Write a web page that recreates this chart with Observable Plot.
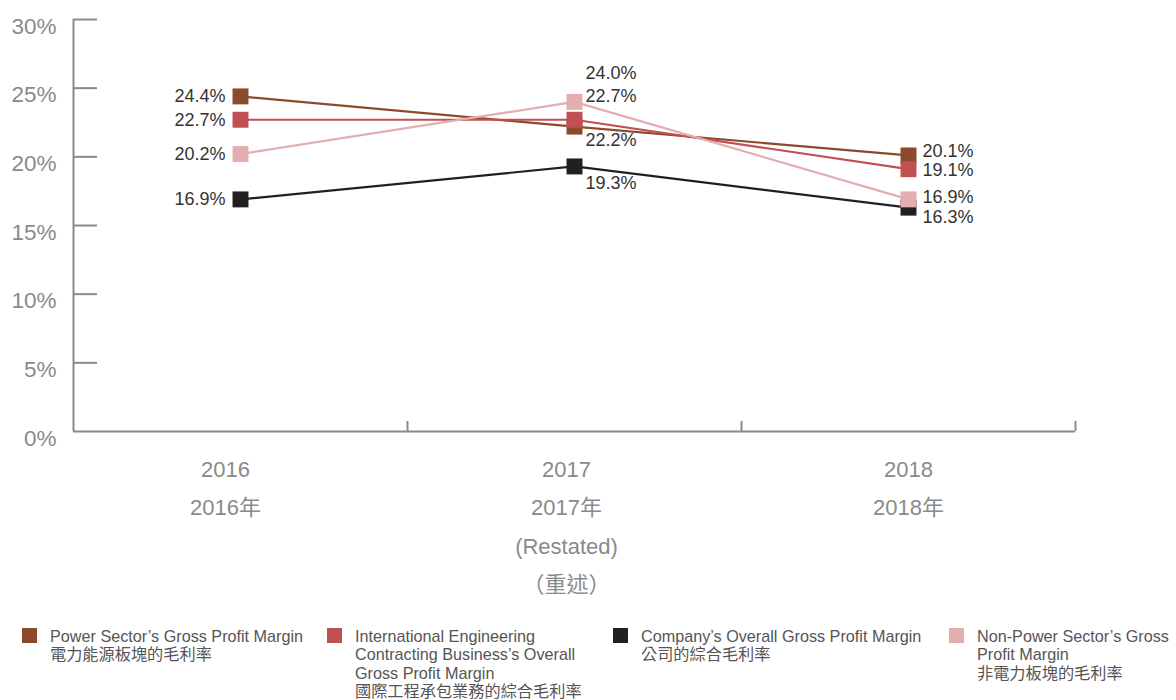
<!DOCTYPE html>
<html>
<head>
<meta charset="utf-8">
<script src="https://cdn.jsdelivr.net/npm/d3@7"></script>
<script src="https://cdn.jsdelivr.net/npm/@observablehq/plot@0.6"></script>
<style>
  html, body { margin: 0; padding: 0; background: #fff; }
  body { width: 1176px; height: 700px; overflow: hidden; font-family: "Liberation Sans", Arial, "Noto Sans CJK TC", sans-serif; }
  #chart svg { display: block; }
  #legend { position: relative; height: 88px; }
  .item { position: absolute; top: 15px; display: flex; align-items: flex-start; }
  .sw { width: 15px; height: 15px; margin-top: 1px; flex: none; }
  .lab { margin-left: 13px; font-size: 16.2px; line-height: 18.3px; color: #555; white-space: pre-line; font-family: "Liberation Sans", Arial, "Noto Sans CJK TC", sans-serif; }
</style>
</head>
<body>
<div id="chart"></div>
<div id="legend"></div>
<script>
// ---- data ----
const years = [2016, 2017, 2018];
const yearLabels = ["2016\n2016年", "2017\n2017年\n(Restated)\n（重述）", "2018\n2018年"];
const seriesKeys = ["power", "intl", "company", "nonpower"];
const seriesLegend = [
  "Power Sector’s Gross Profit Margin\n電力能源板塊的毛利率",
  "International Engineering\nContracting Business’s Overall\nGross Profit Margin\n國際工程承包業務的綜合毛利率",
  "Company’s Overall Gross Profit Margin\n公司的綜合毛利率",
  "Non-Power Sector’s Gross\nProfit Margin\n非電力板塊的毛利率"
];
const powerMargin = [24.4, 22.2, 20.1];
const intlMargin = [22.7, 22.7, 19.1];
const companyMargin = [16.9, 19.3, 16.3];
const nonPowerMargin = [20.2, 24.0, 16.9];
const yTicks = [0, 5, 10, 15, 20, 25, 30];

// ---- styling ----
const colors = { power: "#8B4A2B", intl: "#C05052", company: "#231F20", nonpower: "#E3AEB0" };
const legendLeft = [22, 327, 613, 949];
const yearLabelDx = [-15, -8, 0];
const drawOrder = ["company", "power", "intl", "nonpower"];
const valuesByKey = { power: powerMargin, intl: intlMargin, company: companyMargin, nonpower: nonPowerMargin };

const rows = [];
for (const k of seriesKeys) years.forEach((yr, i) => rows.push({ key: k, year: yr, idx: i, value: valuesByKey[k][i] }));

// label nudges (px) per year index / series
function nudge(k, i) {
  if (i === 0) return { dx: -15, dy: 0, anchor: "end" };
  if (i === 1) return { dx: 11, dy: { nonpower: -29, intl: -24, power: 14, company: 17 }[k], anchor: "start" };
  return { dx: 14, dy: { power: -4, intl: 1, nonpower: -2, company: 10 }[k], anchor: "start" };
}

const W = 1176, H = 612, mL = 73, mR = 101, mT = 19, mB = 181;
const xDomain = [years[0] - 0.5, years[years.length - 1] + 0.5];
const boundaries = years.map(y => y + 0.5);
const tickLenX = 24 / (W - mL - mR) * (xDomain[1] - xDomain[0]);
const tickLenY = 10 / (H - mT - mB) * 30;
const axisColor = "#8a8a8a";

const marks = [
  // y axis ticks (inward)
  Plot.ruleY(yTicks.filter(t => t > 0), { y: d => d, x1: xDomain[0], x2: xDomain[0] + tickLenX, stroke: axisColor, strokeWidth: 2 }),
  // x boundary ticks (upward)
  Plot.ruleX(boundaries, { x: d => d, y1: 0, y2: tickLenY, stroke: axisColor, strokeWidth: 2 }),
  Plot.ruleX([xDomain[0]], { stroke: axisColor, strokeWidth: 2 }),
  Plot.ruleY([0], { stroke: axisColor, strokeWidth: 2 }),
  Plot.axisY({ ticks: yTicks, tickSize: 0, tickPadding: 17, tickFormat: d => d + "%", fontSize: 22.5, fill: axisColor, label: null, dy: 7 })
];
years.forEach((yr, i) => {
  marks.push(Plot.text([yr], { x: d => d, frameAnchor: "bottom", text: () => yearLabels[i], lineAnchor: "top", lineHeight: 1.75, dy: 18, dx: yearLabelDx[i], fontSize: 22, fill: axisColor }));
});
for (const k of drawOrder) {
  marks.push(Plot.line(rows.filter(r => r.key === k), { x: "year", y: "value", stroke: colors[k], strokeWidth: 2.2 }));
}
for (const k of drawOrder) {
  marks.push(Plot.dot(rows.filter(r => r.key === k), { x: "year", y: "value", symbol: "square", r: 9, fill: colors[k], stroke: "none" }));
}
for (const r of rows) {
  const n = nudge(r.key, r.idx);
  marks.push(Plot.text([r], { x: "year", y: "value", text: d => d.value.toFixed(1) + "%", dx: n.dx, dy: n.dy, textAnchor: n.anchor, fontSize: 18, fill: "#333" }));
}

const chart = Plot.plot({
  width: W, height: H,
  marginLeft: mL, marginRight: mR, marginTop: mT, marginBottom: mB,
  style: { fontFamily: "'Liberation Sans', Arial, 'Noto Sans CJK TC', sans-serif", background: "#fff" },
  x: { type: "linear", domain: xDomain, axis: null },
  y: { domain: [0, 30], axis: null },
  marks
});
document.getElementById("chart").append(chart);

const legend = document.getElementById("legend");
seriesKeys.forEach((k, i) => {
  const it = document.createElement("div");
  it.className = "item";
  it.style.left = legendLeft[i] + "px";
  const sw = document.createElement("div");
  sw.className = "sw";
  sw.style.background = colors[k];
  const lab = document.createElement("div");
  lab.className = "lab";
  lab.textContent = seriesLegend[i];
  it.append(sw, lab);
  legend.append(it);
});
</script>
</body>
</html>
